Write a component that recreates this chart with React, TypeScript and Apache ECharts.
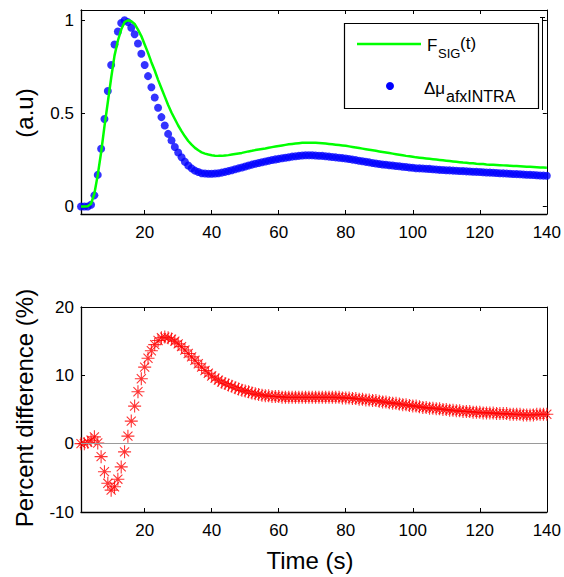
import React, { useEffect, useRef } from "react";
import * as echarts from "echarts";

// Time samples (s)
const times: number[] = Array.from({ length: 140 }, (_, i) => i + 1);

// F_SIG(t) (a.u)
const fSig: number[] = [
  0, 0, 0.002, 0.015, 0.07, 0.17, 0.29, 0.43, 0.56, 0.69,
  0.81, 0.89, 0.95, 0.99, 1.0, 0.995, 0.98, 0.95, 0.915, 0.87,
  0.825, 0.775, 0.73, 0.68, 0.635, 0.59, 0.545, 0.505, 0.47, 0.435,
  0.405, 0.377, 0.352, 0.332, 0.315, 0.302, 0.291, 0.284, 0.279, 0.275,
  0.273, 0.272, 0.272, 0.274, 0.276, 0.279, 0.282, 0.285, 0.288, 0.292,
  0.296, 0.299, 0.303, 0.306, 0.309, 0.312, 0.316, 0.319, 0.322, 0.325,
  0.328, 0.331, 0.334, 0.336, 0.338, 0.34, 0.342, 0.343, 0.343, 0.343,
  0.342, 0.341, 0.34, 0.338, 0.336, 0.334, 0.332, 0.33, 0.328, 0.326,
  0.323, 0.32, 0.317, 0.314, 0.311, 0.308, 0.305, 0.302, 0.299, 0.296,
  0.293, 0.29, 0.287, 0.284, 0.281, 0.278, 0.275, 0.272, 0.27, 0.267,
  0.264, 0.262, 0.26, 0.258, 0.256, 0.254, 0.252, 0.25, 0.248, 0.246,
  0.244, 0.242, 0.24, 0.238, 0.236, 0.235, 0.233, 0.232, 0.23, 0.229,
  0.228, 0.226, 0.225, 0.224, 0.223, 0.222, 0.221, 0.22, 0.219, 0.218,
  0.217, 0.216, 0.215, 0.214, 0.213, 0.212, 0.211, 0.21, 0.209, 0.208,
];

// Δμ_afxINTRA (a.u)
const dMu: number[] = [
  0, 0, 0, 0.01, 0.06, 0.17, 0.31, 0.47, 0.62, 0.76,
  0.87, 0.94, 0.985, 1.0, 0.99, 0.96, 0.925, 0.875, 0.82, 0.76,
  0.7, 0.64, 0.585, 0.53, 0.48, 0.435, 0.39, 0.355, 0.32, 0.29,
  0.265, 0.24, 0.22, 0.205, 0.193, 0.185, 0.179, 0.177, 0.176, 0.176,
  0.177, 0.179, 0.182, 0.186, 0.19, 0.195, 0.2, 0.205, 0.21, 0.215,
  0.22, 0.225, 0.23, 0.234, 0.238, 0.242, 0.246, 0.25, 0.253, 0.256,
  0.259, 0.262, 0.265, 0.268, 0.27, 0.272, 0.274, 0.275, 0.275, 0.275,
  0.274, 0.273, 0.272, 0.27, 0.268, 0.266, 0.264, 0.262, 0.26, 0.258,
  0.255, 0.252, 0.249, 0.246, 0.243, 0.24, 0.237, 0.234, 0.231, 0.228,
  0.226, 0.224, 0.222, 0.22, 0.218, 0.216, 0.214, 0.212, 0.21, 0.208,
  0.206, 0.205, 0.204, 0.203, 0.202, 0.2, 0.199, 0.197, 0.196, 0.195,
  0.194, 0.193, 0.192, 0.191, 0.19, 0.189, 0.188, 0.187, 0.186, 0.185,
  0.184, 0.183, 0.182, 0.181, 0.18, 0.179, 0.178, 0.177, 0.176, 0.175,
  0.174, 0.173, 0.172, 0.171, 0.17, 0.169, 0.168, 0.167, 0.166, 0.165,
];

// Percent difference (%)
const pctDiff: number[] = [
  0, 0, 0.2, 0.5, 1.0, 0.1, -1.9, -4.1, -5.8, -6.8,
  -6.3, -5.2, -3.4, -1.2, 1.1, 3.3, 5.5, 7.6, 9.5, 11.2,
  12.5, 13.6, 14.5, 15.1, 15.5, 15.6, 15.5, 15.3, 15.0, 14.6,
  14.2, 13.7, 13.2, 12.7, 12.2, 11.7, 11.2, 10.7, 10.3, 9.9,
  9.6, 9.3, 9.0, 8.8, 8.6, 8.4, 8.2, 8.0, 7.8, 7.7,
  7.6, 7.4, 7.3, 7.2, 7.1, 7.0, 7.0, 6.9, 6.9, 6.9,
  6.8, 6.8, 6.8, 6.8, 6.8, 6.8, 6.8, 6.8, 6.8, 6.8,
  6.8, 6.8, 6.8, 6.8, 6.8, 6.8, 6.8, 6.8, 6.7, 6.7,
  6.7, 6.6, 6.6, 6.5, 6.5, 6.4, 6.4, 6.3, 6.3, 6.2,
  6.1, 6.1, 6.0, 5.9, 5.9, 5.8, 5.7, 5.7, 5.6, 5.5,
  5.5, 5.4, 5.3, 5.3, 5.2, 5.2, 5.1, 5.1, 5.0, 5.0,
  4.9, 4.9, 4.8, 4.8, 4.7, 4.7, 4.7, 4.6, 4.6, 4.6,
  4.5, 4.5, 4.5, 4.5, 4.4, 4.4, 4.4, 4.4, 4.3, 4.3,
  4.3, 4.3, 4.2, 4.2, 4.2, 4.2, 4.3, 4.3, 4.3, 4.3,
];

const xTicks: number[] = [20, 40, 60, 80, 100, 120, 140];
const yTopTicks: number[] = [0, 0.5, 1];
const yBottomTicks: number[] = [-10, 0, 10, 20];

const FONT = "'Liberation Sans', Arial, Helvetica, sans-serif";

const ASTERISK =
  "path://M5 0 L5 10 M0 5 L10 5 M1.5 1.5 L8.5 8.5 M1.5 8.5 L8.5 1.5";

function xAxisDef(gridIndex: number, top: boolean) {
  return {
    type: "value",
    gridIndex,
    position: top ? "top" : "bottom",
    min: 1,
    max: 140,
    axisLine: { show: true, onZero: false, lineStyle: { color: "#000", width: top ? 1 : 1.3 } },
    axisTick: {
      show: true,
      inside: true,
      length: 4,
      customValues: xTicks,
      lineStyle: { color: "#000", width: 1 },
    },
    axisLabel: {
      show: !top,
      customValues: xTicks,
      color: "#000",
      fontSize: 17,
      fontFamily: FONT,
      margin: 10,
    },
    splitLine: { show: false },
  };
}

function yAxisDef(
  gridIndex: number,
  right: boolean,
  min: number,
  max: number,
  ticks: number[]
) {
  return {
    type: "value",
    gridIndex,
    position: right ? "right" : "left",
    min,
    max,
    axisLine: { show: true, onZero: false, lineStyle: { color: "#000", width: right ? 1 : 1.3 } },
    axisTick: {
      show: true,
      inside: true,
      length: 4,
      customValues: ticks,
      lineStyle: { color: "#000", width: 1 },
    },
    axisLabel: {
      show: !right,
      customValues: ticks,
      color: "#000",
      fontSize: 17,
      fontFamily: FONT,
      margin: 7,
      formatter: (v: number) => String(v),
    },
    splitLine: { show: false },
  };
}

export default function App() {
  const ref = useRef<HTMLDivElement>(null);

  useEffect(() => {
    if (!ref.current) return;
    const chart = echarts.init(ref.current, undefined, { renderer: "svg" });

    const option: any = {
      animation: false,
      backgroundColor: "#fff",
      grid: [
        { left: 81, top: 10, width: 466, height: 204 },
        { left: 81, top: 307, width: 466, height: 205 },
      ],
      xAxis: [
        xAxisDef(0, false),
        xAxisDef(0, true),
        xAxisDef(1, false),
        xAxisDef(1, true),
      ],
      yAxis: [
        yAxisDef(0, false, -0.04, 1.055, yTopTicks),
        yAxisDef(0, true, -0.04, 1.055, yTopTicks),
        yAxisDef(1, false, -10, 20, yBottomTicks),
        yAxisDef(1, true, -10, 20, yBottomTicks),
      ],
      series: [
        {
          name: "F_SIG(t)",
          type: "line",
          xAxisIndex: 0,
          yAxisIndex: 0,
          data: times.map((t, i) => [t, fSig[i]]),
          showSymbol: false,
          lineStyle: { color: "#00ff00", width: 2.5 },
          itemStyle: { color: "#00ff00" },
          silent: true,
        },
        {
          name: "Δμ_afxINTRA",
          type: "scatter",
          xAxisIndex: 0,
          yAxisIndex: 0,
          data: times.map((t, i) => [t, dMu[i]]),
          symbol: "circle",
          symbolSize: 8,
          itemStyle: { color: "#0000ff" },
          silent: true,
        },
        {
          name: "Percent difference",
          type: "scatter",
          xAxisIndex: 2,
          yAxisIndex: 2,
          data: times.map((t, i) => [t, pctDiff[i]]),
          symbol: ASTERISK,
          symbolSize: 13,
          itemStyle: {
            color: "rgba(0,0,0,0)",
            borderColor: "#ff0000",
            borderWidth: 1.1,
          },
          silent: true,
          markLine: {
            silent: true,
            symbol: "none",
            label: { show: false },
            lineStyle: { color: "#9a9a9a", width: 1, type: "solid" },
            data: [{ yAxis: 0 }],
          },
        },
      ],
      graphic: [
        {
          type: "text",
          x: 24,
          y: 113,
          rotation: Math.PI / 2,
          style: {
            text: "(a.u)",
            font: `24px ${FONT}`,
            fill: "#000",
            align: "center",
            verticalAlign: "middle",
          },
        },
        {
          type: "text",
          x: 24,
          y: 408,
          rotation: Math.PI / 2,
          style: {
            text: "Percent difference (%)",
            font: `24px ${FONT}`,
            fill: "#000",
            align: "center",
            verticalAlign: "middle",
          },
        },
        {
          type: "text",
          x: 310,
          y: 560,
          style: {
            text: "Time (s)",
            font: `24px ${FONT}`,
            fill: "#000",
            align: "center",
            verticalAlign: "middle",
          },
        },
        // legend
        {
          type: "group",
          z: 100,
          children: [
            {
              type: "line",
              shape: { x1: 542.5, y1: 17.5, x2: 542.5, y2: 110 },
              style: { stroke: "#000", lineWidth: 1 },
            },
            {
              type: "line",
              shape: { x1: 540, y1: 17.5, x2: 545, y2: 17.5 },
              style: { stroke: "#000", lineWidth: 1 },
            },
            {
              type: "rect",
              shape: { x: 344.5, y: 23.5, width: 194, height: 85 },
              style: { fill: "#fff", stroke: "#000", lineWidth: 1.2 },
            },
            {
              type: "line",
              shape: { x1: 357, y1: 44, x2: 421, y2: 44 },
              style: { stroke: "#00ff00", lineWidth: 2.5 },
            },
            {
              type: "circle",
              shape: { cx: 390, cy: 86, r: 4 },
              style: { fill: "#0000ff" },
            },
            {
              type: "text",
              x: 427,
              y: 45,
              style: { text: "F", font: `17px ${FONT}`, fill: "#000", align: "left", verticalAlign: "middle" },
            },
            {
              type: "text",
              x: 438,
              y: 53,
              style: { text: "SIG", font: `13px ${FONT}`, fill: "#000", align: "left", verticalAlign: "middle" },
            },
            {
              type: "text",
              x: 460,
              y: 43,
              style: { text: "(t)", font: `17px ${FONT}`, fill: "#000", align: "left", verticalAlign: "middle" },
            },
            {
              type: "text",
              x: 424,
              y: 88,
              style: { text: "Δμ", font: `17px ${FONT}`, fill: "#000", align: "left", verticalAlign: "middle" },
            },
            {
              type: "text",
              x: 446,
              y: 96,
              style: { text: "afxINTRA", font: `16px ${FONT}`, fill: "#000", align: "left", verticalAlign: "middle" },
            },
          ],
        },
      ],
    };

    chart.setOption(option);
    return () => chart.dispose();
  }, []);

  return (
    <div
      ref={ref}
      style={{ position: "absolute", left: 0, top: 0, width: 564, height: 577, background: "#fff" }}
    />
  );
}
